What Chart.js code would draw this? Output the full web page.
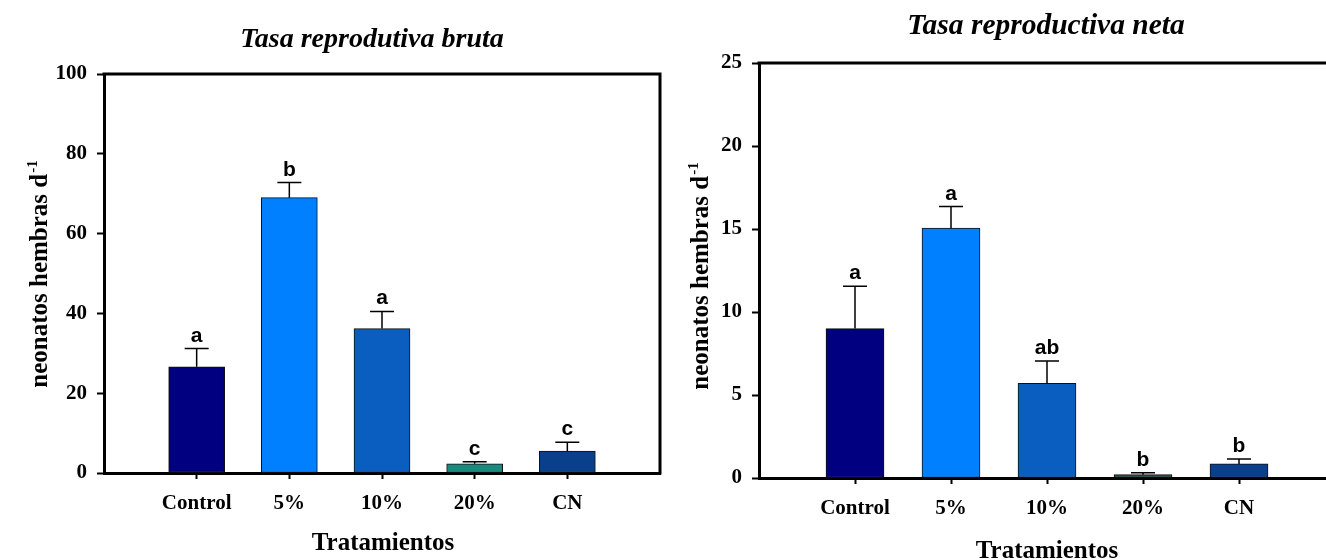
<!DOCTYPE html>
<html>
<head>
<meta charset="utf-8">
<script src="https://cdn.jsdelivr.net/npm/chart.js@4.4.1/dist/chart.umd.min.js"></script>
<style>
  html, body { margin: 0; padding: 0; background: #fff; overflow: hidden; }
  body { width: 1326px; height: 560px; position: relative; }
  .box { position: absolute; top: 0; height: 560px; }
  #left { left: 0; width: 663px; }
  #right { left: 663px; width: 690px; }
</style>
</head>
<body>
<div class="box" id="left"><canvas id="bruta"></canvas></div>
<div class="box" id="right"><canvas id="neta"></canvas></div>
<script>
const categories = ["Control", "5%", "10%", "20%", "CN"];

// Tasa reproductiva bruta
const brutaMeans = [26.6, 69.0, 36.2, 2.3, 5.5];
const brutaErrors = [4.6, 3.8, 4.3, 0.5, 2.2];
const brutaLetters = ["a", "b", "a", "c", "c"];
const brutaTicks = [0, 20, 40, 60, 80, 100];

// Tasa reproductiva neta
const netaMeans = [9.0, 15.05, 5.7, 0.2, 0.85];
const netaErrors = [2.55, 1.3, 1.35, 0.12, 0.3];
const netaLetters = ["a", "a", "ab", "b", "b"];
const netaTicks = [0, 5, 10, 15, 20, 25];

const brutaColors = ["#000080", "#0080ff", "#0a5ebf", "#1a8a7e", "#0a3f8c"];
const netaColors = ["#000080", "#0080ff", "#0a5ebf", "#24524c", "#0a3f8c"];

const SERIF = "'Liberation Serif', 'Times New Roman', serif";
const SANS = "'Liberation Sans', Arial, sans-serif";

// frame, error bars, significance letters and titles
const decor = {
  id: "decor",
  afterDatasetsDraw(chart, args, o) {
    const ctx = chart.ctx;
    const a = chart.chartArea;
    const y = chart.scales.y;
    const meta = chart.getDatasetMeta(0);
    ctx.save();
    ctx.strokeStyle = "#000";
    ctx.lineWidth = 3;
    ctx.beginPath();
    ctx.moveTo(a.left - 1.5, a.top);
    ctx.lineTo(a.right, a.top);
    ctx.lineTo(a.right, a.bottom + 1.5);
    ctx.stroke();

    ctx.lineWidth = 1.5;
    ctx.fillStyle = "#000";
    ctx.font = "bold 21px " + SANS;
    ctx.textAlign = "center";
    ctx.textBaseline = "alphabetic";
    o.errors.forEach((err, i) => {
      const bar = meta.data[i + 1];
      const top = y.getPixelForValue(o.means[i] + err);
      ctx.beginPath();
      ctx.moveTo(bar.x, bar.y);
      ctx.lineTo(bar.x, top);
      ctx.moveTo(bar.x - o.cap / 2, top);
      ctx.lineTo(bar.x + o.cap / 2, top);
      ctx.stroke();
      ctx.fillText(o.letters[i], bar.x, top - 7);
    });
    ctx.restore();
  },
  afterDraw(chart, args, o) {
    const ctx = chart.ctx;
    ctx.save();
    ctx.fillStyle = "#000";
    ctx.textAlign = "center";
    ctx.textBaseline = "alphabetic";
    ctx.font = "italic bold " + o.title.size + "px " + SERIF;
    ctx.fillText(o.title.text, o.title.x, o.title.y);

    ctx.font = "bold 25px " + SERIF;
    ctx.fillText("Tratamientos", o.xTitle.x, o.xTitle.y);

    // y title with superscript
    const main = "neonatos hembras d";
    const sup = "-1";
    ctx.font = "bold 25px " + SERIF;
    const w1 = ctx.measureText(main).width;
    ctx.font = "bold 15px " + SERIF;
    const w2 = ctx.measureText(sup).width;
    const total = w1 + 1 + w2;
    ctx.translate(o.yTitle.x, o.yTitle.y);
    ctx.rotate(-Math.PI / 2);
    ctx.textAlign = "left";
    ctx.font = "bold 25px " + SERIF;
    ctx.fillText(main, -total / 2, 0);
    ctx.font = "bold 15px " + SERIF;
    ctx.fillText(sup, -total / 2 + w1 + 1, -10);
    ctx.restore();
  }
};

function makeChart(id, means, errors, letters, ticks, colors, L) {
  const n = categories.length;
  return new Chart(document.getElementById(id), {
    type: "bar",
    data: {
      labels: ["", ...categories, ""],
      datasets: [{
        data: [null, ...means, null],
        backgroundColor: ["rgba(0,0,0,0)", ...colors, "rgba(0,0,0,0)"],
        borderColor: "#111",
        borderWidth: 1,
        borderSkipped: false,
        barThickness: L.barW
      }]
    },
    options: {
      responsive: true,
      maintainAspectRatio: false,
      animation: false,
      devicePixelRatio: 1,
      layout: { padding: L.pad },
      plugins: {
        legend: { display: false },
        tooltip: { enabled: false },
        decor: {
          means: means,
          errors: errors,
          letters: letters,
          cap: 24,
          title: L.title,
          xTitle: L.xTitle,
          yTitle: L.yTitle
        }
      },
      scales: {
        x: {
          type: "category",
          offset: false,
          z: 1,
          grid: {
            offset: false,
            drawOnChartArea: false,
            tickLength: 6,
            tickWidth: 2,
            tickColor: (c) => (c.index === 0 || c.index === n + 1) ? "rgba(0,0,0,0)" : "#000"
          },
          border: { width: 3, color: "#000" },
          ticks: {
            color: "#000",
            font: { family: SERIF, size: 21, weight: "bold" },
            padding: 12,
            maxRotation: 0,
            autoSkip: false
          },
          afterFit: (s) => {
            s.height = L.xHeight;
            s.paddingLeft = 0;
            s.paddingRight = 0;
          }
        },
        y: {
          min: 0,
          max: ticks[ticks.length - 1],
          z: 1,
          afterBuildTicks: (s) => { s.ticks = ticks.map((v) => ({ value: v })); },
          grid: {
            drawOnChartArea: false,
            tickLength: 7,
            tickWidth: 2,
            tickColor: "#000"
          },
          border: { width: 3, color: "#000" },
          ticks: {
            color: "#000",
            font: { family: SERIF, size: 21, weight: "bold" },
            padding: 10
          },
          afterFit: (s) => { s.width = L.yWidth; }
        }
      }
    },
    plugins: [decor]
  });
}

makeChart("bruta", brutaMeans, brutaErrors, brutaLetters, brutaTicks, brutaColors, {
  pad: { top: 74, right: 3, left: 0, bottom: 0 },
  yWidth: 104,
  xHeight: 87,
  barW: 56,
  title: { text: "Tasa reprodutiva bruta", x: 372, y: 47, size: 28 },
  xTitle: { x: 383, y: 550 },
  yTitle: { x: 47, y: 274 }
});

makeChart("neta", netaMeans, netaErrors, netaLetters, netaTicks, netaColors, {
  pad: { top: 63, right: 18, left: 0, bottom: 0 },
  yWidth: 96,
  xHeight: 82,
  barW: 58,
  title: { text: "Tasa reproductiva neta", x: 383, y: 34, size: 29.5 },
  xTitle: { x: 384, y: 558 },
  yTitle: { x: 45, y: 276 }
});
</script>
</body>
</html>
